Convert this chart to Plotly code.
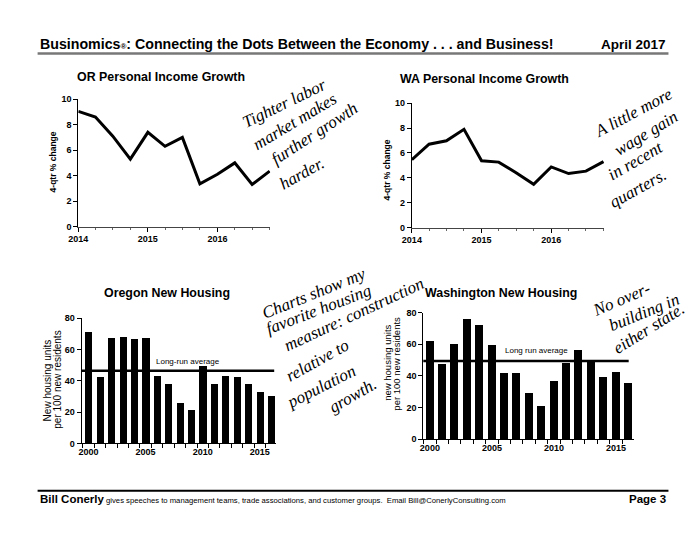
import plotly.graph_objects as go

# ---------------- data ----------------
quarters = ["2014-01-01", "2014-04-01", "2014-07-01", "2014-10-01",
            "2015-01-01", "2015-04-01", "2015-07-01", "2015-10-01",
            "2016-01-01", "2016-04-01", "2016-07-01", "2016-10-01"]
or_income_growth = [9.05, 8.6, 7.1, 5.3, 7.4, 6.3, 7.0, 3.35, 4.1, 5.0, 3.3, 4.35]
wa_income_growth = [5.45, 6.7, 6.97, 7.9, 5.37, 5.26, 4.4, 3.47, 4.87, 4.34, 4.53, 5.3]

years = [2000, 2001, 2002, 2003, 2004, 2005, 2006, 2007, 2008,
         2009, 2010, 2011, 2012, 2013, 2014, 2015, 2016]
or_housing = [71.0, 42.4, 67.3, 67.9, 66.4, 67.3, 43.0, 38.0, 25.5,
              21.5, 49.5, 37.6, 43.0, 42.4, 38.0, 33.0, 30.5]
wa_housing = [62.0, 47.8, 60.4, 75.9, 72.4, 60.0, 42.2, 42.2, 29.4,
              21.5, 36.8, 48.2, 56.6, 49.4, 39.3, 43.0, 35.6]
or_long_run_avg = 46.4
wa_long_run_avg = 49.4

income_ticks = ["2014-01-01", "2015-01-01", "2016-01-01"]
income_ticktext = ["2014", "2015", "2016"]
housing_ticks = [2000, 2005, 2010, 2015]
housing_ticktext = ["2000", "2005", "2010", "2015"]

# ---------------- layout helpers ----------------
W, H = 700, 541
def fx(p):
    return p / W
def fy(p):
    return 1 - p / H

FONT = "Arial, Liberation Sans, sans-serif"
HAND = "Liberation Serif, serif"

fig = go.Figure()

fig.add_trace(go.Scatter(x=quarters, y=or_income_growth, mode="lines",
                         line=dict(color="black", width=3), xaxis="x", yaxis="y",
                         showlegend=False, hoverinfo="skip"))
fig.add_trace(go.Scatter(x=quarters, y=wa_income_growth, mode="lines",
                         line=dict(color="black", width=3), xaxis="x2", yaxis="y2",
                         showlegend=False, hoverinfo="skip"))
fig.add_trace(go.Bar(x=years, y=or_housing, marker=dict(color="black", line=dict(width=0)),
                     width=0.63, xaxis="x3", yaxis="y3", showlegend=False, hoverinfo="skip"))
fig.add_trace(go.Bar(x=years, y=wa_housing, marker=dict(color="black", line=dict(width=0)),
                     width=0.64, xaxis="x4", yaxis="y4", showlegend=False, hoverinfo="skip"))

tickfont = dict(family=FONT, size=9, color="black", weight="bold")

def income_x(domain, anchor):
    return dict(domain=domain, anchor=anchor, type="date",
                range=["2014-01-01", "2016-10-04"],
                tickvals=income_ticks, ticktext=income_ticktext,
                ticks="outside", ticklen=4, tickcolor="black",
                showline=True, linecolor="#444", linewidth=1,
                showgrid=False, zeroline=False, tickfont=tickfont,
                minor=dict(dtick="M3", ticks="outside", ticklen=2, tickcolor="#666",
                           showgrid=False))

def income_y(domain, anchor):
    return dict(domain=domain, anchor=anchor, range=[0, 10], dtick=2,
                ticks="outside", ticklen=4, tickcolor="black",
                showline=True, linecolor="black", linewidth=1,
                showgrid=False, zeroline=False, tickfont=tickfont)

def housing_x(domain, anchor, rng):
    return dict(domain=domain, anchor=anchor, range=rng,
                tickvals=housing_ticks, ticktext=housing_ticktext,
                ticks="", showline=True, linecolor="black", linewidth=1,
                showgrid=False, zeroline=False, tickfont=tickfont,
                minor=dict(tick0=1999.5, dtick=1, ticks="outside", ticklen=4,
                           tickcolor="black", showgrid=False))

def housing_y(domain, anchor):
    return dict(domain=domain, anchor=anchor, range=[0, 80], dtick=20,
                ticks="outside", ticklen=4, tickcolor="black",
                showline=True, linecolor="black", linewidth=1,
                showgrid=False, zeroline=False, tickfont=tickfont)

fig.update_layout(
    width=W, height=H,
    margin=dict(l=0, r=0, t=0, b=0),
    paper_bgcolor="white", plot_bgcolor="white",
    bargap=0,
    xaxis=income_x([fx(69.3), fx(264)], "y"),
    yaxis=income_y([fy(225.7), fy(96)], "x"),
    xaxis2=income_x([fx(407.7), fx(602.7)], "y2"),
    yaxis2=income_y([fy(226.7), fy(100)], "x2"),
    xaxis3=housing_x([fx(72.7), fx(270)], "y3", [1999.4, 2016.43]),
    yaxis3=housing_y([fy(446.7), fy(319)], "x3"),
    xaxis4=housing_x([fx(419.3), fx(633)], "y4", [1999.47, 2016.45]),
    yaxis4=housing_y([fy(442.3), fy(313.3)], "x4"),
)

# long-run average lines
fig.add_shape(type="line", xref="x3 domain", yref="y3", x0=0, x1=0.99,
              y0=or_long_run_avg, y1=or_long_run_avg, line=dict(color="black", width=2.5))
fig.add_shape(type="line", xref="x4 domain", yref="y4", x0=0, x1=0.975,
              y0=wa_long_run_avg, y1=wa_long_run_avg, line=dict(color="black", width=2.5))

# header / footer rules
fig.add_shape(type="line", xref="paper", yref="paper", x0=fx(28), x1=fx(668),
              y0=fy(49.5), y1=fy(49.5), line=dict(color="#777", width=2.5))
fig.add_shape(type="line", xref="paper", yref="paper", x0=fx(28), x1=fx(668),
              y0=fy(495), y1=fy(495), line=dict(color="black", width=2))

def ann(text, x, y, size=10, bold=False, xanchor="center", angle=0, family=FONT,
        style="normal"):
    fig.add_annotation(text=text, x=fx(x), y=fy(y), xref="paper", yref="paper",
                       showarrow=False, xanchor=xanchor, yanchor="middle",
                       textangle=angle,
                       font=dict(family=family, size=size, color="black",
                                 weight="bold" if bold else "normal", style=style))

# header
ann("Businomics<span style='font-size:8px'>®</span>: Connecting the Dots Between the Economy . . . and Business!",
    28, 40, size=14.2, bold=True, xanchor="left")
ann("April 2017", 668, 40, size=13.5, bold=True, xanchor="right")

# footer
ann("<b>Bill Conerly</b><span style='font-size:7.7px'> gives speeches to management teams, trade associations, and customer groups.  Email Bill@ConerlyConsulting.com</span>",
    28, 503, size=11.5, xanchor="left")
ann("Page 3", 668, 503, size=11.5, bold=True, xanchor="right")

# chart titles
ann("OR Personal Income Growth", 153, 73, size=12.4, bold=True)
ann("WA Personal Income Growth", 481, 75, size=12.4, bold=True)
ann("Oregon New Housing", 159, 293, size=12.4, bold=True)
ann("Washington New Housing", 498, 293, size=12.4, bold=True)

# axis titles
ann("4-qtr % change", 44, 160, size=8.5, bold=True, angle=-90)
ann("4-qtr % change", 382, 168, size=8.5, bold=True, angle=-90)
ann("New housing units", 38, 382, size=10, angle=-90)
ann("per 100 new residents", 48.5, 382, size=10, angle=-90)
ann("new housing units", 383, 365, size=9.5, angle=-90)
ann("per 100 new residents", 392, 365, size=9.5, angle=-90)

# long-run labels
ann("Long-run average", 181, 363, size=8)
ann("Long run average", 534, 352, size=8)

# handwritten notes
hand = [
    ("Tighter labor", 278, 100, -26),
    ("market makes", 289, 119, -31),
    ("further growth", 309, 131, -33),
    ("harder.", 296, 172, -29),
    ("A little more", 633, 110, -28),
    ("wage gain", 645, 131, -31),
    ("in recent", 635, 158, -30),
    ("quarters.", 637, 187, -29),
    ("Charts show my", 308, 294, -22),
    ("favorite housing", 313, 310, -21),
    ("measure: construction", 349, 315, -25),
    ("relative to", 312, 362, -29),
    ("population", 316, 389, -27),
    ("growth.", 348, 398, -30),
    ("No over-", 620, 300, -23),
    ("building in", 643, 313, -22),
    ("either state.", 648, 330, -32),
]
for t, x, y, a in hand:
    ann(t, x, y, size=17, angle=a, family=HAND, style="italic")

fig.write_html("out.html",
               config={"displayModeBar": False},
               post_script="document.body.style.margin='0';document.body.style.padding='0';document.body.style.overflow='hidden';")
